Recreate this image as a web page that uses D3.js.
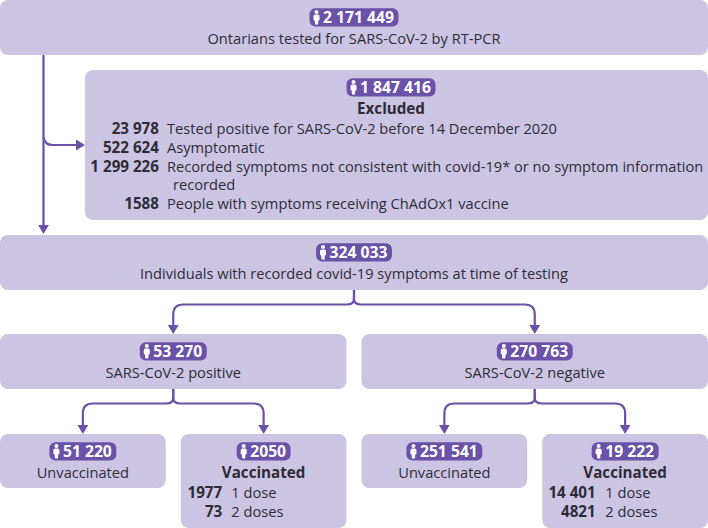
<!DOCTYPE html>
<html>
<head>
<meta charset="utf-8">
<script src="https://cdn.jsdelivr.net/npm/d3@7"></script>
<style>
  html, body { margin: 0; padding: 0; background: #fff; }
  svg { display: block; }
  text { font-family: "Open Sans", sans-serif; }
</style>
</head>
<body>
<svg width="708" height="528"></svg>
<script>
'use strict';

const boxIds = ['tested', 'excluded', 'symptoms', 'positive', 'negative', 'posUnvax', 'posVax', 'negUnvax', 'negVax'];
const boxCounts = ['2 171 449', '1 847 416', '324 033', '53 270', '270 763', '51 220', '2050', '251 541', '19 222'];
const boxTitles = [
  'Ontarians tested for SARS-CoV-2 by RT-PCR',
  'Excluded',
  'Individuals with recorded covid-19 symptoms at time of testing',
  'SARS-CoV-2 positive',
  'SARS-CoV-2 negative',
  'Unvaccinated',
  'Vaccinated',
  'Unvaccinated',
  'Vaccinated'
];
const boldTitles = ['excluded', 'posVax', 'negVax'];

const excludedCounts = ['23 978', '522 624', '1 299 226', '', '1588'];
const excludedLabels = [
  'Tested positive for SARS-CoV-2 before 14 December 2020',
  'Asymptomatic',
  'Recorded symptoms not consistent with covid-19* or no symptom information',
  ' recorded',
  'People with symptoms receiving ChAdOx1 vaccine'
];
const doseLabels = ['1 dose', '2 doses'];
const posDoseCounts = ['1977', '73'];
const negDoseCounts = ['14 401', '4821'];

const splits = [
  {from: 'symptoms', to: ['positive', 'negative']},
  {from: 'positive', to: ['posUnvax', 'posVax']},
  {from: 'negative', to: ['negUnvax', 'negVax']}
];

const width = 708;
const purple = '#6a52a8';
const boxFill = '#cbc5e3';
const ink = '#2f2b36';
const textSize = 14.65;
const boldSize = 15.2;

// four leaf columns, everything wider is a span of them
const col = d3.scaleBand().domain(d3.range(4)).range([0, width]).paddingInner(0.083);
const rowTop = d3.scaleOrdinal().domain(['tested', 'excluded', 'symptoms', 'split', 'leaf']).range([0, 70, 235, 334, 434]);
const rowBottom = d3.scaleOrdinal().domain(['tested', 'excluded', 'symptoms', 'split', 'leaf', 'leafTall']).range([55, 220, 290, 389, 488, 528]);
const mainX = 43.5;

const spans = {
  tested: [0, 3, 'tested', 'tested'],
  excluded: [0, 3, 'excluded', 'excluded'],
  symptoms: [0, 3, 'symptoms', 'symptoms'],
  positive: [0, 1, 'split', 'split'],
  negative: [2, 3, 'split', 'split'],
  posUnvax: [0, 0, 'leaf', 'leaf'],
  posVax: [1, 1, 'leaf', 'leafTall'],
  negUnvax: [2, 2, 'leaf', 'leaf'],
  negVax: [3, 3, 'leaf', 'leafTall']
};

const boxes = boxIds.map((id, i) => {
  const s = spans[id];
  const x0 = id === 'excluded' ? 85 : col(s[0]);
  const x1 = col(s[1]) + col.bandwidth();
  return {
    id, count: boxCounts[i], title: boxTitles[i],
    x0, x1, cx: (x0 + x1) / 2,
    y0: rowTop(s[2]), y1: rowBottom(s[3])
  };
});
const byId = Object.fromEntries(boxes.map(d => [d.id, d]));
// excluded heading sits left of its box centre in the original
byId.excluded.cx = 391;

const svg = d3.select('svg');

// boxes
svg.append('g').selectAll('rect').data(boxes).join('rect')
  .attr('x', d => d.x0).attr('y', d => d.y0)
  .attr('width', d => d.x1 - d.x0).attr('height', d => d.y1 - d.y0)
  .attr('rx', 8).attr('fill', boxFill);

// connectors
const links = svg.append('g');

function head(x, y, dir) {
  const p = d3.path();
  if (dir === 'down') {
    p.moveTo(x - 5.4, y - 9); p.lineTo(x + 5.4, y - 9); p.lineTo(x, y);
  } else {
    p.moveTo(x - 9, y - 5.4); p.lineTo(x - 9, y + 5.4); p.lineTo(x, y);
  }
  p.closePath();
  links.append('path').attr('d', p.toString()).attr('fill', purple);
}

function line(p) {
  links.append('path').attr('d', p.toString())
    .attr('fill', 'none').attr('stroke', purple).attr('stroke-width', 2.2);
}

// main trunk plus the side branch into the excluded box
const trunk = d3.path();
trunk.moveTo(mainX, byId.tested.y1);
trunk.lineTo(mainX, byId.symptoms.y0 - 8);
line(trunk);
head(mainX, byId.symptoms.y0 - 1, 'down');

const midExcl = 145;
const side = d3.path();
side.moveTo(mainX, midExcl - 8);
side.quadraticCurveTo(mainX + 1, midExcl, mainX + 9, midExcl);
side.lineTo(byId.excluded.x0 - 8, midExcl);
line(side);
head(byId.excluded.x0, midExcl, 'right');

// forks
splits.forEach(s => {
  const src = byId[s.from];
  const y0 = src.y1;
  const yh = y0 + 14.5;
  s.to.forEach(t => {
    const dst = byId[t];
    const sign = dst.cx < src.cx ? -1 : 1;
    const p = d3.path();
    p.moveTo(src.cx, y0);
    p.lineTo(src.cx, yh - 6);
    p.quadraticCurveTo(src.cx, yh, src.cx + sign * 7, yh);
    p.lineTo(dst.cx - sign * 10, yh);
    p.quadraticCurveTo(dst.cx, yh, dst.cx, yh + 10);
    p.lineTo(dst.cx, dst.y0 - 8);
    line(p);
    head(dst.cx, dst.y0, 'down');
  });
});

// pills with the person icon
const pills = svg.append('g').selectAll('g').data(boxes).join('g')
  .attr('transform', d => `translate(${d.cx},${d.y0 + 8.2})`);

pills.append('text')
  .attr('x', 4.5).attr('y', 14.8).attr('fill', '#fff')
  .attr('font-size', 15.7).attr('font-weight', 700)
  .attr('text-anchor', 'middle')
  .text(d => d.count);

pills.each(function(d) {
  const g = d3.select(this);
  const tw = g.select('text').node().getComputedTextLength();
  const pw = tw + 18;
  const bg = g.insert('g', 'text');
  bg.append('rect')
    .attr('x', -pw / 2).attr('y', 0)
    .attr('width', pw).attr('height', 18.4)
    .attr('rx', 6).attr('fill', purple);
  const ix = -pw / 2 + 7;
  bg.append('circle').attr('cx', ix).attr('cy', 3.7).attr('r', 2).attr('fill', '#fff');
  bg.append('path')
    .attr('d', `M${ix - 3},8 Q${ix - 3},6.4 ${ix - 1.4},6.4 H${ix + 1.4} Q${ix + 3},6.4 ${ix + 3},8 V11.8 L${ix + 1.8},12.4 L${ix + 1.5},16.2 H${ix - 1.5} L${ix - 1.8},12.4 L${ix - 3},11.8 Z`)
    .attr('fill', '#fff');
});

// titles
svg.append('g').selectAll('text').data(boxes).join('text')
  .attr('x', d => d.cx).attr('y', d => d.y0 + 43.7)
  .attr('text-anchor', 'middle')
  .attr('font-size', d => boldTitles.includes(d.id) ? boldSize : textSize)
  .attr('font-weight', d => boldTitles.includes(d.id) ? 700 : 400)
  .attr('fill', ink)
  .text(d => d.title);

// count + label lists
function detail(counts, labels, numX, labelX, firstY, step) {
  const g = svg.append('g').attr('fill', ink).attr('font-size', textSize);
  g.selectAll('text.n').data(counts).join('text').attr('class', 'n')
    .attr('x', numX).attr('y', (d, i) => firstY + i * step)
    .attr('text-anchor', 'end').attr('font-size', boldSize).attr('font-weight', 700).text(d => d);
  g.selectAll('text.l').data(labels).join('text').attr('class', 'l')
    .attr('x', d => labelX + (d.startsWith(' ') ? 6 : 0)).attr('y', (d, i) => firstY + i * step)
    .text(d => d.trim());
}

detail(excludedCounts, excludedLabels, 159, 167, 134.2, 18.7);
detail(posDoseCounts, doseLabels, byId.posVax.x0 + 41.5, byId.posVax.x0 + 50.5, 498.2, 18.7);
detail(negDoseCounts, doseLabels, byId.negVax.x0 + 53.5, byId.negVax.x0 + 63, 498.2, 18.7);
</script>
</body>
</html>
